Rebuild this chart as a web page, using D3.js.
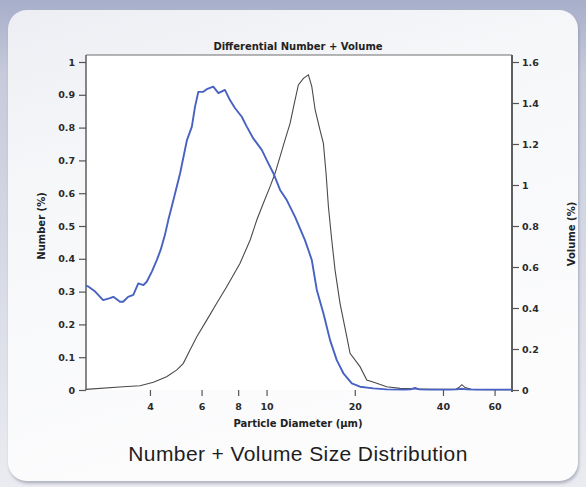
<!DOCTYPE html>
<html>
<head>
<meta charset="utf-8">
<script src="https://cdn.jsdelivr.net/npm/d3@7"></script>
<style>
  html, body { margin: 0; padding: 0; background: #e6e8ef; }
  svg { display: block; }
</style>
</head>
<body>
<svg id="chart" width="586" height="487"></svg>
<script>
// ---- Data ----
const chartTitle = "Differential Number + Volume";
const xAxisTitle = "Particle Diameter (µm)";
const leftAxisTitle = "Number (%)";
const rightAxisTitle = "Volume (%)";
const caption = "Number + Volume Size Distribution";

const xTicks = [4, 6, 8, 10, 20, 40, 60];
const leftTicks = [0, 0.1, 0.2, 0.3, 0.4, 0.5, 0.6, 0.7, 0.8, 0.9, 1];
const rightTicks = [0, 0.2, 0.4, 0.6, 0.8, 1, 1.2, 1.4, 1.6];

// Number distribution: diameter (µm), number (%)
const numberDiam = [2.42, 2.47, 2.60, 2.77, 2.92, 3.00, 3.16, 3.24, 3.37, 3.51, 3.65, 3.80, 3.90, 4.06, 4.22, 4.35, 4.50, 4.62, 4.81, 5.07, 5.35, 5.56, 5.70, 5.85, 6.08, 6.25, 6.58, 6.85, 7.21, 7.50, 7.81, 8.23, 8.56, 9.01, 9.63, 10.14, 10.55, 11.12, 11.72, 12.51, 13.52, 13.89, 14.27, 14.84, 15.63, 16.47, 17.36, 18.29, 19.54, 20.84, 23.14, 25.7, 29.5, 31.0, 32.1, 33.2, 36.0, 42.0, 44.5, 46.4, 48.3, 52.0, 60.0, 68.8];
const numberVals = [0.318, 0.315, 0.300, 0.274, 0.280, 0.284, 0.269, 0.269, 0.284, 0.290, 0.325, 0.320, 0.330, 0.361, 0.396, 0.427, 0.473, 0.518, 0.579, 0.661, 0.762, 0.803, 0.864, 0.909, 0.909, 0.917, 0.925, 0.905, 0.915, 0.884, 0.859, 0.833, 0.803, 0.767, 0.732, 0.691, 0.661, 0.610, 0.579, 0.528, 0.457, 0.427, 0.396, 0.305, 0.234, 0.152, 0.091, 0.051, 0.020, 0.010, 0.005, 0.002, 0.001, 0.002, 0.006, 0.002, 0.001, 0.001, 0.002, 0.004, 0.002, 0.001, 0.001, 0.001];

// Volume distribution: diameter (µm), volume (%)
const volumeDiam = [2.42, 3.24, 3.70, 4.11, 4.56, 4.94, 5.20, 5.48, 5.78, 6.25, 6.76, 7.31, 8.12, 8.79, 9.26, 9.75, 10.28, 10.69, 11.12, 11.56, 12.03, 12.51, 12.84, 13.36, 13.89, 14.27, 14.65, 15.22, 15.63, 15.96, 16.26, 16.69, 17.13, 17.81, 18.78, 19.27, 20.84, 21.98, 23.77, 25.7, 28.55, 33.4, 38.0, 44.0, 45.3, 46.4, 47.6, 50.0, 60.0, 68.8];
const volumeVals = [0.003, 0.016, 0.021, 0.038, 0.065, 0.098, 0.130, 0.195, 0.260, 0.341, 0.423, 0.504, 0.618, 0.732, 0.829, 0.911, 0.992, 1.057, 1.138, 1.220, 1.301, 1.415, 1.488, 1.520, 1.537, 1.480, 1.366, 1.268, 1.203, 1.057, 0.894, 0.732, 0.585, 0.423, 0.260, 0.179, 0.114, 0.049, 0.033, 0.016, 0.008, 0.005, 0.003, 0.003, 0.012, 0.026, 0.012, 0.003, 0.002, 0.002];

// ---- Drawing ----
const svg = d3.select("#chart");
const W = 586, H = 487;
const defs = svg.append("defs");
const chartFont = "'DejaVu Sans', Verdana, sans-serif";

const bgGrad = defs.append("linearGradient").attr("id", "bgGrad").attr("x1", 0).attr("y1", 0).attr("x2", 0).attr("y2", 1);
bgGrad.append("stop").attr("offset", "0%").attr("stop-color", "#a7aec9");
bgGrad.append("stop").attr("offset", "15%").attr("stop-color", "#c6cadb");
bgGrad.append("stop").attr("offset", "100%").attr("stop-color", "#ebecf1");

const cardGrad = defs.append("linearGradient").attr("id", "cardGrad").attr("x1", 0).attr("y1", 0).attr("x2", 0.35).attr("y2", 1);
cardGrad.append("stop").attr("offset", "0%").attr("stop-color", "#eceef3");
cardGrad.append("stop").attr("offset", "35%").attr("stop-color", "#f6f7f9");
cardGrad.append("stop").attr("offset", "100%").attr("stop-color", "#fcfcfd");

const shadow = defs.append("filter").attr("id", "cardShadow").attr("x", "-5%").attr("y", "-5%").attr("width", "110%").attr("height", "110%");
shadow.append("feDropShadow").attr("dx", 1).attr("dy", 2.5).attr("stdDeviation", 1.5).attr("flood-color", "#7d8296").attr("flood-opacity", 0.55);

const axShadow = defs.append("filter").attr("id", "axShadow").attr("x", "-5%").attr("y", "-50%").attr("width", "110%").attr("height", "300%");
axShadow.append("feDropShadow").attr("dx", 0).attr("dy", 2).attr("stdDeviation", 1).attr("flood-color", "#666").attr("flood-opacity", 0.5);

svg.append("rect").attr("width", W).attr("height", H).attr("fill", "url(#bgGrad)");
svg.append("rect").attr("x", 8).attr("y", 10).attr("width", 570).attr("height", 471).attr("rx", 19)
  .attr("fill", "url(#cardGrad)").attr("filter", "url(#cardShadow)");

const plot = { left: 86, right: 512, top: 55, bottom: 390 };

const x = d3.scaleLog().domain([numberDiam[0], numberDiam[numberDiam.length - 1]]).range([plot.left, plot.right]);
const yL = d3.scaleLinear().domain([0, 1]).range([plot.bottom, 62]);
const yR = d3.scaleLinear().domain([0, 1.6]).range([plot.bottom, 62]);

// plot background
svg.append("rect").attr("x", plot.left).attr("y", plot.top)
  .attr("width", plot.right - plot.left).attr("height", plot.bottom - plot.top).attr("fill", "#ffffff");

// frame (top)
svg.append("line").attr("x1", plot.left).attr("x2", plot.right).attr("y1", plot.top).attr("y2", plot.top)
  .attr("stroke", "#6e6e6e").attr("stroke-width", 1.2);

const fmt = d3.format("~g");

// left axis
const gL = svg.append("g").attr("transform", `translate(${plot.left},0)`)
  .call(d3.axisLeft(yL).tickValues(leftTicks).tickFormat(fmt).tickSize(7).tickSizeOuter(0));
gL.select(".domain").attr("d", `M0,${plot.top}V${plot.bottom}`).attr("stroke", "#5e5e5e").attr("stroke-width", 1.5);

// right axis
const gR = svg.append("g").attr("transform", `translate(${plot.right},0)`)
  .call(d3.axisRight(yR).tickValues(rightTicks).tickFormat(fmt).tickSize(7).tickSizeOuter(0));
gR.select(".domain").attr("d", `M0,${plot.top}V${plot.bottom + 2}`).attr("stroke", "#5e5e5e").attr("stroke-width", 2);

// bottom axis
const gB = svg.append("g").attr("transform", `translate(0,${plot.bottom})`)
  .call(d3.axisBottom(x).tickValues(xTicks).tickFormat(fmt).tickSize(6).tickSizeOuter(0));
gB.select(".domain").attr("d", `M${plot.left - 6},0H${plot.right + 6}`).attr("stroke", "#555").attr("stroke-width", 2)
  .attr("filter", "url(#axShadow)");

[gL, gR, gB].forEach(g => {
  g.selectAll(".tick line").attr("stroke", "#555").attr("stroke-width", 1.2);
  g.selectAll(".tick text").attr("fill", "#2a2a2a").attr("font-size", 9.5).attr("font-weight", "bold")
    .attr("font-family", chartFont);
});
gL.selectAll(".tick text").attr("x", -11);
gR.selectAll(".tick text").attr("x", 10);
gB.selectAll(".tick text").attr("y", 13);

// lines
const numData = numberDiam.map((d, i) => ({ d, v: numberVals[i] }));
const volData = volumeDiam.map((d, i) => ({ d, v: volumeVals[i] }));

const clip = defs.append("clipPath").attr("id", "plotClip");
clip.append("rect").attr("x", plot.left).attr("y", plot.top).attr("width", plot.right - plot.left).attr("height", plot.bottom - plot.top + 1);

const lines = svg.append("g").attr("clip-path", "url(#plotClip)");
lines.append("path").datum(volData)
  .attr("d", d3.line().x(p => x(p.d)).y(p => yR(p.v)))
  .attr("fill", "none")
  .attr("stroke", "#4a4a4a").attr("stroke-width", 1.1);
lines.append("path").datum(numData)
  .attr("d", d3.line().x(p => x(p.d)).y(p => yL(p.v)))
  .attr("fill", "none").attr("stroke", "#4762c2").attr("stroke-width", 1.9).attr("stroke-linejoin", "round");

// titles
svg.append("text").attr("x", 298).attr("y", 49.5).attr("text-anchor", "middle").attr("font-family", chartFont)
  .attr("font-size", 10).attr("font-weight", "bold").attr("fill", "#222").text(chartTitle);
svg.append("text").attr("x", 298).attr("y", 426.5).attr("text-anchor", "middle").attr("font-family", chartFont)
  .attr("font-size", 10).attr("font-weight", "bold").attr("fill", "#222").text(xAxisTitle);
svg.append("text").attr("transform", "translate(44.5,226) rotate(-90)").attr("text-anchor", "middle").attr("font-family", chartFont)
  .attr("font-size", 10).attr("font-weight", "bold").attr("fill", "#222").text(leftAxisTitle);
svg.append("text").attr("transform", "translate(575,234) rotate(-90)").attr("text-anchor", "middle").attr("font-family", chartFont)
  .attr("font-size", 10).attr("font-weight", "bold").attr("fill", "#222").text(rightAxisTitle);
svg.append("text").attr("x", 298).attr("y", 461).attr("text-anchor", "middle")
  .attr("font-family", "'Liberation Sans', Arial, sans-serif").attr("letter-spacing", 0.4)
  .attr("font-size", 21).attr("fill", "#1e1e1e").text(caption);
</script>
</body>
</html>
